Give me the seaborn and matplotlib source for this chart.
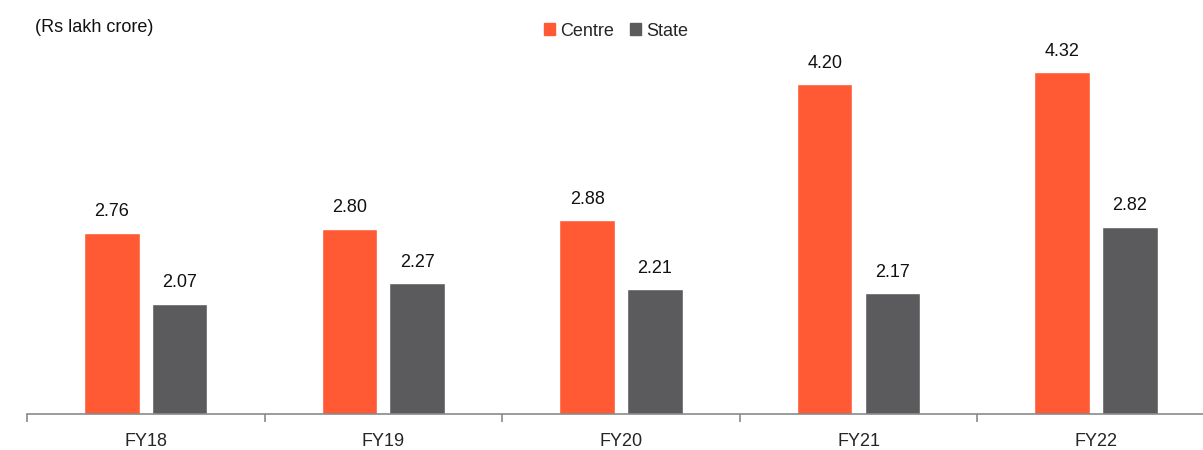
import pandas as pd
import matplotlib
matplotlib.use("Agg")
import matplotlib.pyplot as plt
import seaborn as sns

years = ["FY18", "FY19", "FY20", "FY21", "FY22"]
centre = [2.76, 2.80, 2.88, 4.20, 4.32]
state = [2.07, 2.27, 2.21, 2.17, 2.82]

ORANGE = "#FF5A33"
GREY = "#5B5B5D"
FS = 13

df = pd.DataFrame({
    "year": years * 2,
    "value": centre + state,
    "series": ["Centre"] * len(years) + ["State"] * len(years),
})

sns.set_style("white")
plt.rcParams["font.family"] = ["Liberation Sans", "DejaVu Sans"]

fig = plt.figure(figsize=(12.03, 4.5), dpi=100)
ax = fig.add_axes([27 / 1203, 36 / 450, 1176 / 1203, 412 / 450])

sns.barplot(data=df, x="year", y="value", hue="series",
            palette={"Centre": ORANGE, "State": GREY}, saturation=1,
            width=0.57, gap=0.18, ax=ax, legend=False)

for cont in ax.containers:
    ax.bar_label(cont, fmt="%.2f", padding=9, fontsize=FS, color="#111111")

ax.set_yticks([])
ax.set_xlabel("")
ax.set_ylabel("")
for s in ["top", "right", "left"]:
    ax.spines[s].set_visible(False)
ax.spines["bottom"].set_color("#8a8a8a")
ax.spines["bottom"].set_linewidth(1.2)

ax.set_xticks(range(len(years)))
ax.set_xticklabels(years, fontsize=FS)
ax.tick_params(axis="x", which="major", length=0, pad=14)
ax.set_xticks([i - 0.5 for i in range(len(years) + 1)], minor=True)
ax.tick_params(axis="x", which="minor", length=6, width=1.2, color="#8a8a8a",
               direction="out", bottom=True)

# limits last, set_xticks would widen them
ax.set_ylim(1.0, 5.0)
ax.set_xlim(-0.5, 4.45)

fig.text(35 / 1203, 1 - 28 / 450, "(Rs lakh crore)", fontsize=FS,
         ha="left", va="center", color="#111111")

handles = [plt.Rectangle((0, 0), 1, 1, color=ORANGE),
           plt.Rectangle((0, 0), 1, 1, color=GREY)]
fig.legend(handles, ["Centre", "State"], loc="center",
           bbox_to_anchor=(616 / 1203, 1 - 31 / 450), ncol=2, frameon=False,
           fontsize=FS, handlelength=0.6, handleheight=0.6,
           handletextpad=0.3, columnspacing=0.9)

fig.savefig("out.png", dpi=100)
